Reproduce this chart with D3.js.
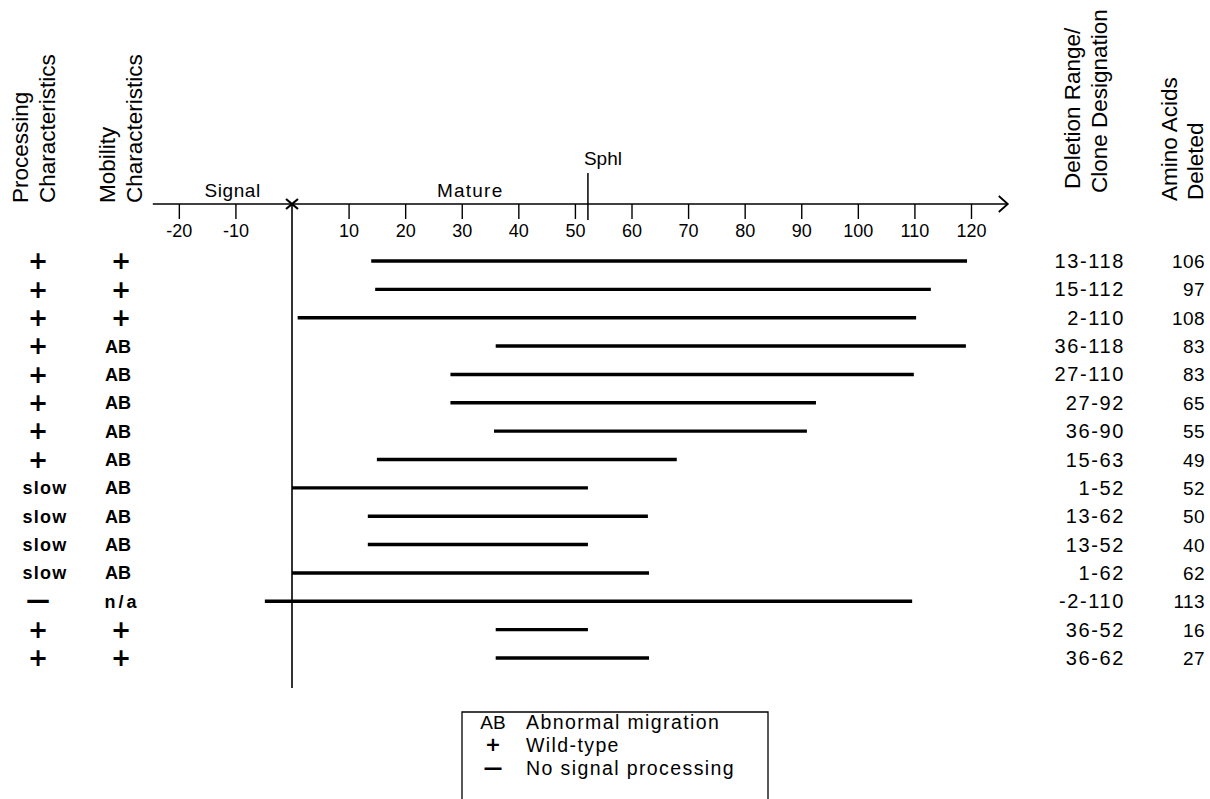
<!DOCTYPE html>
<html>
<head>
<meta charset="utf-8">
<script src="https://cdn.jsdelivr.net/npm/d3@7/dist/d3.min.js"></script>
<style>
  html, body { margin: 0; padding: 0; background: #fff; }
  svg { display: block; font-family: "Liberation Sans", Arial, sans-serif; }
</style>
</head>
<body>
<svg id="chart" width="1210" height="799"></svg>
<script>
// ---------------- data ----------------
const processing = ["+", "+", "+", "+", "+", "+", "+", "+", "slow", "slow", "slow", "slow", "—", "+", "+"];
const mobility = ["+", "+", "+", "AB", "AB", "AB", "AB", "AB", "AB", "AB", "AB", "AB", "n/a", "+", "+"];
const clones = ["13-118", "15-112", "2-110", "36-118", "27-110", "27-92", "36-90", "15-63", "1-52", "13-62", "13-52", "1-62", "-2-110", "36-52", "36-62"];
const aminoDeleted = [106, 97, 108, 83, 83, 65, 55, 49, 52, 50, 40, 62, 113, 16, 27];
// bar extents as drawn in the figure (axis units)
const barStart = [14, 14.7, 1, 36, 28, 28, 35.7, 15, 0, 13.4, 13.4, 0, -4.8, 36, 36];
const barEnd = [119.3, 112.9, 110.3, 119.1, 109.9, 92.6, 91, 68, 52.3, 62.9, 52.3, 63.1, 109.6, 52.3, 63.1];
const tickValues = [-20, -10, 10, 20, 30, 40, 50, 60, 70, 80, 90, 100, 110, 120];
const sphIPosition = 52.3;
const axisExtent = [-24.6, 126.5];
const legendItems = [
  { sym: "AB", label: "Abnormal migration" },
  { sym: "+", label: "Wild-type" },
  { sym: "—", label: "No signal processing" }
];

// ---------------- layout ----------------
const svg = d3.select("#chart");
svg.append("rect").attr("width", 1210).attr("height", 799).attr("fill", "#fff");

const x = d3.scaleLinear().domain([0, 120]).range([292, 971]);
const rows = d3.range(clones.length);
const y = d3.scalePoint().domain(rows).range([261, 658]);
const axisY = 204;

// axis line
svg.append("line")
  .attr("x1", x(axisExtent[0])).attr("x2", x(axisExtent[1]))
  .attr("y1", axisY).attr("y2", axisY)
  .attr("stroke", "#000").attr("stroke-width", 1.6);

// arrow head
const ax = x(axisExtent[1]);
svg.append("path")
  .attr("d", `M${ax - 9},${axisY - 8}L${ax},${axisY}L${ax - 9},${axisY + 8}`)
  .attr("fill", "none").attr("stroke", "#000").attr("stroke-width", 1.8);

// ticks & labels
const axis = d3.axisBottom(x).tickValues(tickValues).tickSize(15).tickSizeOuter(0).tickPadding(5)
  .tickFormat(d => String(d));
const gAxis = svg.append("g").attr("transform", `translate(0,${axisY})`).call(axis);
gAxis.select(".domain").remove();
gAxis.selectAll(".tick line").attr("stroke", "#000").attr("stroke-width", 1.4);
gAxis.selectAll(".tick text")
  .attr("fill", "#000")
  .style("font-family", '"Liberation Sans", Arial, sans-serif')
  .style("font-size", "18px");

// cross at 0
const x0 = x(0);
svg.append("path")
  .attr("d", `M${x0 - 6},${axisY - 5}L${x0 + 6},${axisY + 5}M${x0 - 6},${axisY + 5}L${x0 + 6},${axisY - 5}`)
  .attr("stroke", "#000").attr("stroke-width", 2.2).attr("fill", "none");

// vertical line at 0
svg.append("line")
  .attr("x1", x0).attr("x2", x0).attr("y1", axisY).attr("y2", 688)
  .attr("stroke", "#000").attr("stroke-width", 1.6);

// Sphl marker
const xs = x(sphIPosition);
svg.append("line")
  .attr("x1", xs).attr("x2", xs).attr("y1", 173).attr("y2", 220)
  .attr("stroke", "#000").attr("stroke-width", 1.5);
svg.append("text").attr("x", xs - 4).attr("y", 165)
  .style("font-size", "19px").text("Sphl");

// region labels
svg.append("text").attr("x", x(-10.5)).attr("y", 197).attr("text-anchor", "middle")
  .style("font-size", "19px").style("letter-spacing", "0.6px").text("Signal");
svg.append("text").attr("x", x(31.5)).attr("y", 197).attr("text-anchor", "middle")
  .style("font-size", "19px").style("letter-spacing", "1.2px").text("Mature");

// bars
svg.append("g").selectAll("line").data(rows).join("line")
  .attr("x1", i => x(barStart[i])).attr("x2", i => x(barEnd[i]))
  .attr("y1", i => y(i)).attr("y2", i => y(i))
  .attr("stroke", "#000").attr("stroke-width", 3.4);

// column headers (rotated)
function vText(xb, yb, txt) {
  svg.append("text")
    .attr("transform", `translate(${xb},${yb}) rotate(-90)`)
    .style("font-size", "22.5px")
    .text(txt);
}
vText(28, 203, "Processing");
vText(55, 203, "Characteristics");
vText(115, 203, "Mobility");
vText(142, 203, "Characteristics");
vText(1080, 189, "Deletion Range/");
vText(1107, 193, "Clone Designation");
vText(1177, 201, "Amino Acids");
vText(1203, 200, "Deleted");

// symbol renderer
function drawSym(g, sym, cx, cy, size) {
  if (sym === "+") {
    g.append("text").attr("x", cx).attr("y", cy + size * 0.34).attr("text-anchor", "middle")
      .style("font-family", '"DejaVu Sans", sans-serif').style("font-weight", "bold")
      .style("font-size", size + "px").text("+");
  } else if (sym === "—") {
    g.append("text").attr("x", cx).attr("y", cy + size * 0.3).attr("text-anchor", "middle")
      .style("font-family", '"DejaVu Sans", sans-serif').style("font-weight", "bold")
      .style("font-size", size + "px").text("—");
  } else {
    g.append("text").attr("x", cx).attr("y", cy + 6.5).attr("text-anchor", "middle")
      .style("font-weight", "bold")
      .style("font-size", "18px").style("letter-spacing", sym === "AB" ? "0px" : (sym === "n/a" ? "3px" : "1.2px"))
      .text(sym);
  }
}

const gProc = svg.append("g");
rows.forEach(i => drawSym(gProc, processing[i], processing[i] === "slow" ? 45 : 38, y(i), 24));
const gMob = svg.append("g");
rows.forEach(i => drawSym(gMob, mobility[i], mobility[i] === "AB" ? 118 : (mobility[i] === "n/a" ? 122 : 121), y(i), 24));

// right-hand columns
svg.append("g").selectAll("text").data(rows).join("text")
  .attr("x", 1125).attr("y", i => y(i) + 7).attr("text-anchor", "end")
  .style("font-size", "20px").style("letter-spacing", "1.6px")
  .text(i => clones[i]);
svg.append("g").selectAll("text").data(rows).join("text")
  .attr("x", 1205).attr("y", i => y(i) + 7).attr("text-anchor", "end")
  .style("font-size", "19px").style("letter-spacing", "0.4px")
  .text(i => aminoDeleted[i]);

// legend
const lg = svg.append("g");
lg.append("path").attr("d", "M462,806V712H768V806")
  .attr("fill", "none").attr("stroke", "#000").attr("stroke-width", 1.3);
const ly = d3.scalePoint().domain(d3.range(legendItems.length)).range([722, 768]);
legendItems.forEach((d, i) => {
  if (d.sym === "AB") {
    lg.append("text").attr("x", 493).attr("y", ly(i) + 7).attr("text-anchor", "middle")
      .style("font-size", "19px").text(d.sym);
  } else {
    drawSym(lg, d.sym, 493, ly(i), 19);
  }
  lg.append("text").attr("x", 526).attr("y", ly(i) + 7)
    .style("font-size", "19.5px").style("letter-spacing", "1.4px").text(d.label);
});
</script>
</body>
</html>
